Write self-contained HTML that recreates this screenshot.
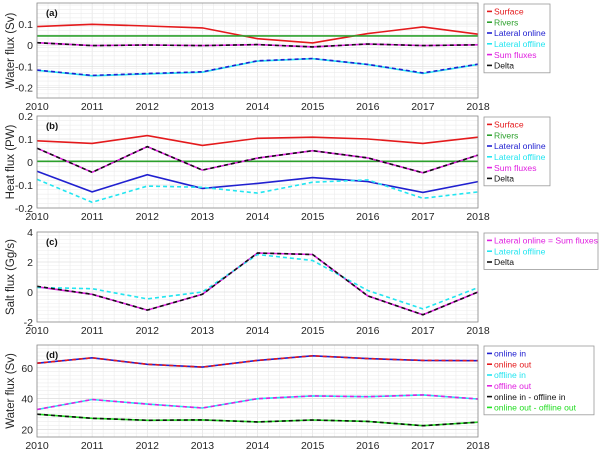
<!DOCTYPE html>
<html><head><meta charset="utf-8">
<style>
body{margin:0;background:#fff;width:600px;height:457px;overflow:hidden;font-family:"Liberation Sans",sans-serif}
svg text{font-family:"Liberation Sans",sans-serif}
</style></head>
<body>
<svg id="chart" width="600" height="457" viewBox="0 0 600 457" xmlns="http://www.w3.org/2000/svg"></svg>
<script>
const years = [2010,2011,2012,2013,2014,2015,2016,2017,2018];
// Panel a: water flux (Sv)
const aSurface = [0.088,0.099,0.091,0.082,0.031,0.011,0.055,0.087,0.052];
const aRivers = [0.044,0.044,0.044,0.044,0.044,0.044,0.044,0.044,0.044];
const aLatOnline = [-0.118,-0.143,-0.134,-0.126,-0.074,-0.063,-0.091,-0.131,-0.090];
const aLatOffline = [-0.119,-0.145,-0.136,-0.128,-0.075,-0.064,-0.092,-0.134,-0.091];
const aSum = [0.012,-0.002,0.001,-0.002,0.003,-0.008,0.006,-0.002,0.002];
const aDelta = [0.012,-0.002,0.001,-0.002,0.003,-0.008,0.006,-0.002,0.002];
const aTicks = [0.1,0,-0.1,-0.2];
const aTickLabels = ["0.1","0","-0.1","-0.2"];
// Panel b: heat flux (PW)
const bSurface = [0.092,0.081,0.115,0.072,0.103,0.108,0.100,0.081,0.108];
const bRivers = [0.003,0.003,0.003,0.003,0.003,0.003,0.003,0.003,0.003];
const bLatOnline = [-0.040,-0.130,-0.055,-0.115,-0.093,-0.068,-0.085,-0.132,-0.085];
const bLatOffline = [-0.075,-0.175,-0.105,-0.110,-0.135,-0.088,-0.078,-0.158,-0.130];
const bSum = [0.060,-0.045,0.067,-0.035,0.017,0.049,0.018,-0.047,0.030];
const bDelta = [0.060,-0.045,0.067,-0.035,0.017,0.049,0.018,-0.047,0.030];
const bTicks = [0.2,0.1,0,-0.1,-0.2];
const bTickLabels = ["0.2","0.1","0","-0.1","-0.2"];
// Panel c: salt flux (Gg/s)
const cOnline = [0.35,-0.15,-1.21,-0.15,2.6,2.5,-0.26,-1.52,0.0];
const cOffline = [0.30,0.22,-0.46,0.0,2.5,2.1,0.1,-1.13,0.29];
const cDelta = [0.38,-0.15,-1.21,-0.15,2.6,2.5,-0.26,-1.52,0.0];
const cTicks = [4,2,0,-2];
const cTickLabels = ["4","2","0","-2"];
// Panel d: water flux (Sv)
const dOnlineIn = [63,66.5,62.3,60.5,64.8,67.8,66,64.8,64.6];
const dOnlineOut = [63,66.5,62.3,60.5,64.8,67.8,66,64.8,64.6];
const dOfflineIn = [33,39.5,36.5,34,40,41.8,41.3,42.5,39.8];
const dOfflineOut = [33,39.5,36.5,34,40,41.8,41.3,42.5,39.8];
const dDiffIn = [30,27.3,26,26.3,25,26.2,25.3,22.5,24.8];
const dDiffOut = [30,27.3,26,26.3,25,26.2,25.3,22.5,24.8];
const dTicks = [60,40,20];
const dTickLabels = ["60","40","20"];

const NS="http://www.w3.org/2000/svg";
const svg=document.getElementById('chart');
function mk(tag,attrs,parent){const e=document.createElementNS(NS,tag);for(const k in attrs)e.setAttribute(k,attrs[k]);(parent||svg).appendChild(e);return e;}
const X0=37,X1=478;
function xs(y){return X0+(y-2010)/8*(X1-X0);}

function panel(p){
  const g=mk('g',{});
  
  
  const ys=v=>p.top+(p.ymax-v)/(p.ymax-p.ymin)*(p.bot-p.top);
  for(let i=0;i<=40;i++){const x=X0+i*(X1-X0)/40;mk('line',{x1:x,x2:x,y1:p.top,y2:p.bot,stroke:i%5?'#ececec':'#dcdcdc','stroke-width':0.6},g);}
  for(let v=p.ymin;v<=p.ymax+1e-9;v+=p.minor){const y=ys(v);mk('line',{x1:X0,x2:X1,y1:y,y2:y,stroke:'#ececec','stroke-width':0.6},g);}
  p.ticks.forEach((t,i)=>{const y=ys(t);
    mk('line',{x1:X0,x2:X1,y1:y,y2:y,stroke:'#dcdcdc','stroke-width':0.6},g);
    const tx=mk('text',{x:X0-4,y:y+4,'text-anchor':'end','font-size':10.5,fill:'#262626'},g);tx.textContent=p.tickLabels[i];
    
    
  });
  years.forEach(yr=>{const t=mk('text',{x:xs(yr),y:p.bot+12,'text-anchor':'middle','font-size':10.5,fill:'#262626'},g);t.textContent=yr;
    
    
  });
  p.series.forEach(s=>{
    const pts=s.data.map((v,i)=>xs(years[i]).toFixed(1)+','+ys(v).toFixed(1)).join(' ');
    const pl=mk('polyline',{points:pts,fill:'none',stroke:s.color,'stroke-width':1.6},g);
    if(s.dash)pl.setAttribute('stroke-dasharray','4 3');
    
    
  });
  const b=mk('rect',{x:X0,y:p.top,width:X1-X0,height:p.bot-p.top,fill:'none',stroke:'#8a8a8a','stroke-width':0.8},g);
  
  
  const lab=mk('text',{x:X0+9,y:p.top+13,'font-size':9.5,'font-weight':'bold',fill:'#111'},g);lab.textContent=p.letter;
  
  
  const cy=(p.top+p.bot)/2;
  const yt=mk('text',{x:0,y:0,transform:`translate(14,${cy}) rotate(-90)`,'text-anchor':'middle','font-size':11.5,fill:'#262626'},g);yt.textContent=p.ylabel;
  
  
  const lg=mk('g',{},g);
  
  
  const rowH=10.8;
  mk('rect',{x:484,y:p.top+1,width:p.legW,height:p.legend.length*rowH+4,fill:'#fff',stroke:'#9a9a9a','stroke-width':0.8},lg);
  p.legend.forEach((e,i)=>{const y=p.top+1+2+rowH*(i+0.5);
    mk('line',{x1:487,x2:492,y1:y,y2:y,stroke:e.line,'stroke-width':1.6},lg);
    const t=mk('text',{x:494,y:y+3.2,'font-size':8.6,fill:e.color},lg);t.textContent=e.label;
    
    
  });
}

panel({name:'panel-a-water-flux',letter:'(a)',ylabel:'Water flux (Sv)',top:3,bot:98,ymin:-0.25,ymax:0.2,minor:0.02,ticks:aTicks,tickLabels:aTickLabels,legW:66,
 series:[{key:'surface',data:aSurface,color:'#e41a1c'},{key:'rivers',data:aRivers,color:'#2ca02c'},{key:'lateral-offline',data:aLatOffline,color:'#22e5f0'},{key:'lateral-online',data:aLatOnline,color:'#2020d0',dash:1},{key:'sum-fluxes',data:aSum,color:'#e020e0'},{key:'delta',data:aDelta,color:'#111',dash:1}],
 legend:[{label:'Surface',color:'#e41a1c',line:'#e41a1c'},{label:'Rivers',color:'#2ca02c',line:'#2ca02c'},{label:'Lateral online',color:'#2020d0',line:'#2020d0'},{label:'Lateral offline',color:'#22e5f0',line:'#22e5f0'},{label:'Sum fluxes',color:'#e020e0',line:'#e020e0'},{label:'Delta',color:'#111',line:'#111'}]});
panel({name:'panel-b-heat-flux',letter:'(b)',ylabel:'Heat flux (PW)',top:116,bot:208,ymin:-0.2,ymax:0.2,minor:0.02,ticks:bTicks,tickLabels:bTickLabels,legW:66,
 series:[{key:'surface',data:bSurface,color:'#e41a1c'},{key:'rivers',data:bRivers,color:'#2ca02c'},{key:'lateral-online',data:bLatOnline,color:'#2020d0'},{key:'lateral-offline',data:bLatOffline,color:'#22e5f0',dash:1},{key:'sum-fluxes',data:bSum,color:'#e020e0'},{key:'delta',data:bDelta,color:'#111',dash:1}],
 legend:[{label:'Surface',color:'#e41a1c',line:'#e41a1c'},{label:'Rivers',color:'#2ca02c',line:'#2ca02c'},{label:'Lateral online',color:'#2020d0',line:'#2020d0'},{label:'Lateral offline',color:'#22e5f0',line:'#22e5f0'},{label:'Sum fluxes',color:'#e020e0',line:'#e020e0'},{label:'Delta',color:'#111',line:'#111'}]});
panel({name:'panel-c-salt-flux',letter:'(c)',ylabel:'Salt flux (Gg/s)',top:232,bot:322,ymin:-2,ymax:4,minor:0.25,ticks:cTicks,tickLabels:cTickLabels,legW:114,
 series:[{key:'lateral-online',data:cOnline,color:'#e020e0'},{key:'lateral-offline',data:cOffline,color:'#22e5f0',dash:1},{key:'delta',data:cDelta,color:'#111',dash:1}],
 legend:[{label:'Lateral online = Sum fluxes',color:'#e020e0',line:'#e020e0'},{label:'Lateral offline',color:'#22e5f0',line:'#22e5f0'},{label:'Delta',color:'#111',line:'#111'}]});
panel({name:'panel-d-water-flux',letter:'(d)',ylabel:'Water flux (Sv)',top:345,bot:437,ymin:15.2,ymax:74.8,minor:2.5,ticks:dTicks,tickLabels:dTickLabels,legW:110,
 series:[{key:'online-in',data:dOnlineIn,color:'#2020d0'},{key:'online-out',data:dOnlineOut,color:'#e41a1c',dash:1},{key:'offline-in',data:dOfflineIn,color:'#22e5f0'},{key:'offline-out',data:dOfflineOut,color:'#e020e0',dash:1},{key:'diff-in',data:dDiffIn,color:'#22dd22'},{key:'diff-out',data:dDiffOut,color:'#111',dash:1}],
 legend:[{label:'online in',color:'#2020d0',line:'#2020d0'},{label:'online out',color:'#e41a1c',line:'#e41a1c'},{label:'offline in',color:'#22e5f0',line:'#22e5f0'},{label:'offline out',color:'#e020e0',line:'#e020e0'},{label:'online in - offline in',color:'#111',line:'#111'},{label:'online out - offline out',color:'#22dd22',line:'#22dd22'}]});
</script>
</body></html>
